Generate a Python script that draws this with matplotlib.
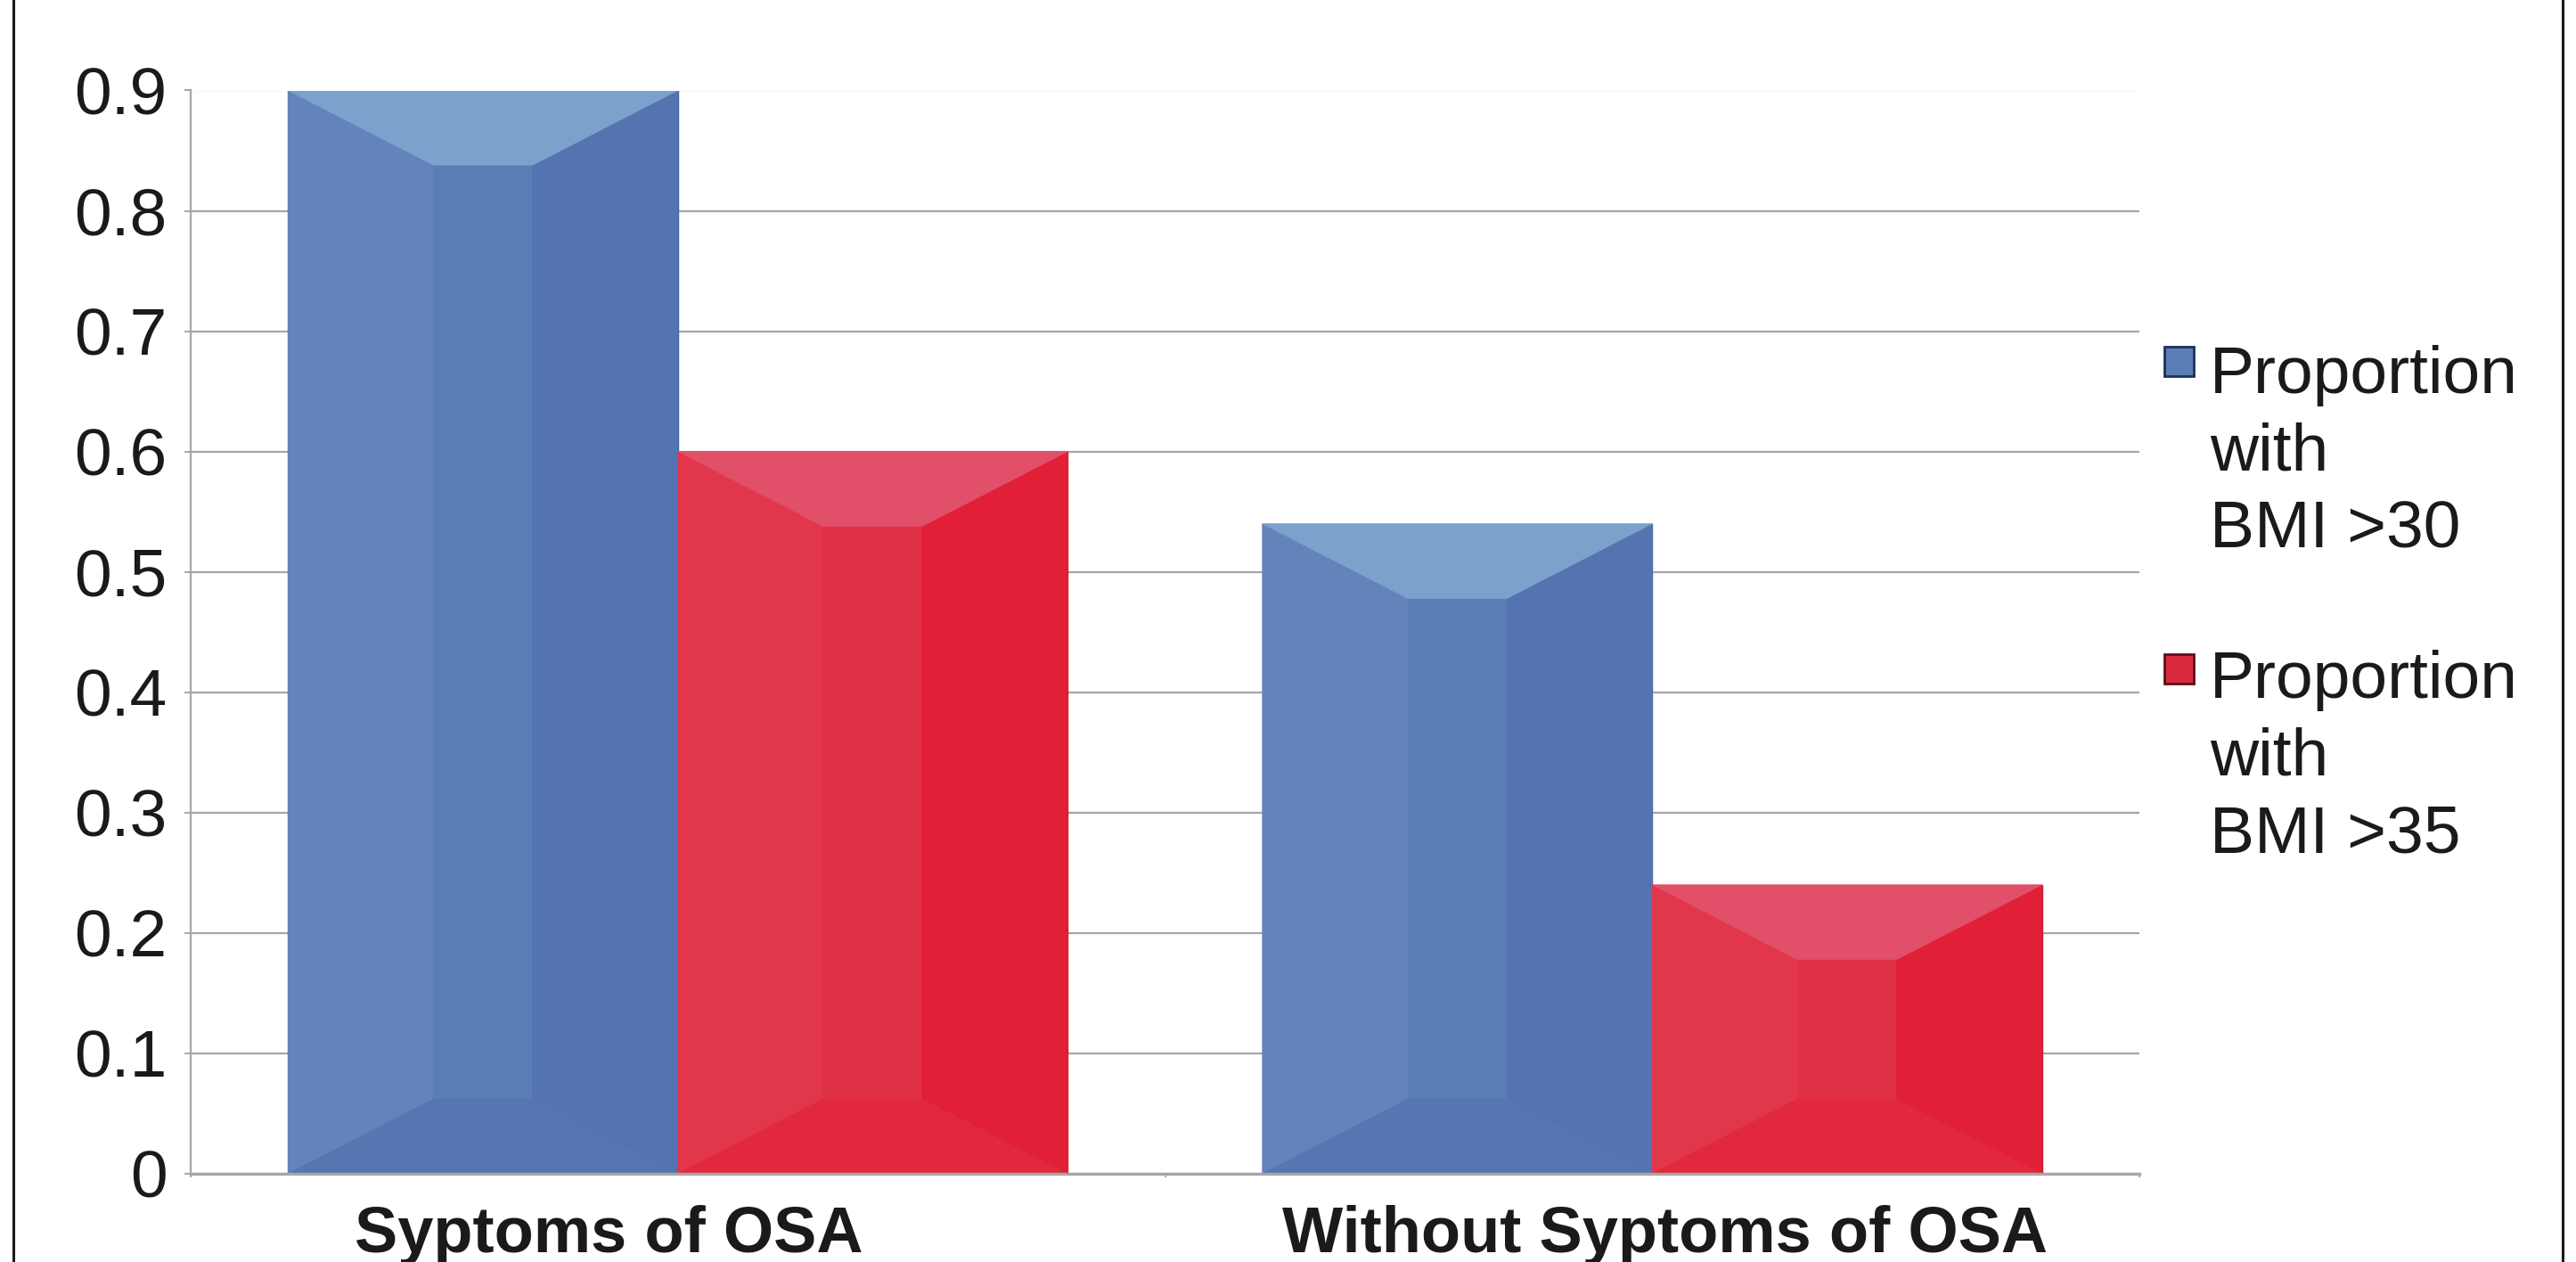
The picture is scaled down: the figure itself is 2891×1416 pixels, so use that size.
import matplotlib
matplotlib.use("Agg")
import matplotlib.pyplot as plt
from matplotlib.patches import Polygon, Rectangle
from matplotlib.lines import Line2D
from matplotlib.transforms import ScaledTranslation

# ---- data ----
categories = ["Syptoms of OSA", "Without Syptoms of OSA"]
series_names = ["Proportion\nwith\nBMI >30", "Proportion\nwith\nBMI >35"]
bmi30 = [0.90, 0.54]
bmi35 = [0.60, 0.24]
yticks = [0, 0.1, 0.2, 0.3, 0.4, 0.5, 0.6, 0.7, 0.8, 0.9]
ytick_labels = ["0", "0.1", "0.2", "0.3", "0.4", "0.5", "0.6", "0.7", "0.8", "0.9"]

# facet colours for the bevelled bars: top, left, centre, right, bottom
blue_faces = dict(top="#7ba1cc", left="#6284bb", centre="#5b7db5", right="#5374b0", bottom="#5676b1")
red_faces = dict(top="#e14f69", left="#e2364a", centre="#e03045", right="#e11f36", bottom="#e2283d")

W, H, DPI = 2891, 1416, 100
plt.rcParams["font.family"] = ["Liberation Sans", "DejaVu Sans"]

fig = plt.figure(figsize=(W / DPI, H / DPI), dpi=DPI)
fig.patch.set_facecolor("white")


def fx(px):
    return px / W


def fy(py):
    return 1 - py / H


ax = fig.add_axes([fx(214), fy(1317), fx(2401) - fx(214), fy(101.5) - fy(1317)])

x = list(range(len(categories)))
bw = 0.4
bars_a = ax.bar([i - bw / 2 for i in x], bmi30, width=bw, color=blue_faces["centre"],
                edgecolor="#4a67a0", linewidth=1.0, zorder=3)
bars_b = ax.bar([i + bw / 2 for i in x], bmi35, width=bw, color=red_faces["centre"],
                edgecolor="#c42236", linewidth=1.0, zorder=3)

# bevel facets built from each bar's own geometry
BEVEL_Y = 0.062
BEVEL_X = 0.149


def bevel(rect, faces):
    x0 = rect.get_x()
    x1 = x0 + rect.get_width()
    h = rect.get_height()
    ix0, ix1 = x0 + BEVEL_X, x1 - BEVEL_X
    polys = {
        "left": [(x0, 0), (x0, h), (ix0, h - BEVEL_Y), (ix0, BEVEL_Y)],
        "right": [(x1, 0), (x1, h), (ix1, h - BEVEL_Y), (ix1, BEVEL_Y)],
        "bottom": [(x0, 0), (x1, 0), (ix1, BEVEL_Y), (ix0, BEVEL_Y)],
        "top": [(x0, h), (x1, h), (ix1, h - BEVEL_Y), (ix0, h - BEVEL_Y)],
    }
    for key, pts in polys.items():
        ax.add_patch(Polygon(pts, closed=True, facecolor=faces[key],
                             edgecolor=faces[key], linewidth=0.5, zorder=4))


for r in bars_a:
    bevel(r, blue_faces)
for r in bars_b:
    bevel(r, red_faces)

ax.set_xlim(-0.5, 1.5)
ax.set_ylim(0, 0.9)
ax.set_yticks(yticks)
ax.set_yticklabels(ytick_labels, fontsize=54, color="#1a1a1a")
ax.yaxis.grid(True, color="#a6a6a6", linewidth=1.6, zorder=0)
ax.set_axisbelow(True)

for side in ("top", "right"):
    ax.spines[side].set_visible(False)
ax.spines["left"].set_color("#a6a6a6")
ax.spines["left"].set_linewidth(1.6)
ax.spines["bottom"].set_color("#a6a6a6")
ax.spines["bottom"].set_linewidth(2.4)
ax.spines["bottom"].set_zorder(5)
ax.tick_params(axis="y", length=5, width=1.4, color="#a6a6a6", pad=14)

ax.set_xticks(x)
ax.set_xticklabels(categories, fontsize=52, fontweight="bold", color="#1a1a1a")
ax.set_xticks([-0.5, 0.5, 1.5], minor=True)
ax.tick_params(axis="x", which="major", length=0, pad=25)
ax.tick_params(axis="x", which="minor", length=3, width=1.4, color="#a6a6a6")
label_shift = [-0.77, 0.14]  # inches
for lab, dx in zip(ax.get_xticklabels(), label_shift):
    lab.set_transform(lab.get_transform() + ScaledTranslation(dx, 0, fig.dpi_scale_trans))

# legend
legend_rows = [(series_names[0], blue_faces["centre"], "#1f2f58", 389, 387),
               (series_names[1], "#d92a3e", "#5a1018", 734, 729)]
for label, fc, ec, mtop, ttop in legend_rows:
    fig.patches.append(Rectangle((fx(2429), fy(mtop + 33)), fx(33), fy(mtop) - fy(mtop + 33),
                                 transform=fig.transFigure, facecolor=fc, edgecolor=ec,
                                 linewidth=2.0, figure=fig))
    fig.text(fx(2480), fy(ttop), label, fontsize=54, color="#1a1a1a",
             ha="left", va="top", linespacing=1.33)

# outer frame lines
for px in (15, 2876):
    fig.add_artist(Line2D([fx(px), fx(px)], [0, 1], transform=fig.transFigure,
                          color="#1a1a1a", linewidth=2.2))

fig.savefig("out.png", dpi=DPI, facecolor="white")
